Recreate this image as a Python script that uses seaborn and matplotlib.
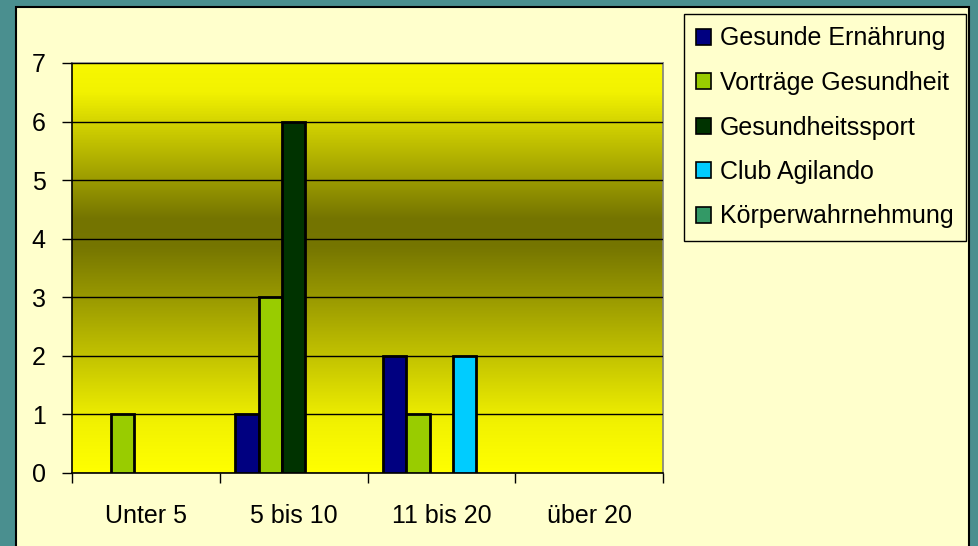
import pandas as pd
import seaborn as sns
import numpy as np
import matplotlib.pyplot as plt
from matplotlib.colors import LinearSegmentedColormap
from matplotlib.patches import Rectangle, Patch

# Data
categories = ['Unter 5', '5 bis 10', '11 bis 20', 'über 20']
series = ['Gesunde Ernährung', 'Vorträge Gesundheit', 'Gesundheitssport',
          'Club Agilando', 'Körperwahrnehmung']
gesunde_ernaehrung = [0, 1, 2, 0]
vortraege = [1, 3, 1, 0]
gesundheitssport = [0, 6, 0, 0]
club_agilando = [0, 0, 2, 0]
koerper = [0, 0, 0, 0]
colors = ['#000080', '#99CC00', '#003300', '#00CCFF', '#339966']

values = [gesunde_ernaehrung, vortraege, gesundheitssport, club_agilando, koerper]
df = pd.DataFrame({
    'Kategorie': np.tile(categories, len(series)),
    'Reihe': np.repeat(series, len(categories)),
    'Wert': np.concatenate(values),
})

plt.rcParams['font.family'] = ['Liberation Sans', 'DejaVu Sans']

W, H = 979, 546
fig = plt.figure(figsize=(W / 100, H / 100), dpi=100)
fig.patch.set_facecolor('#4A8F8F')

# cream panel
panel = Rectangle((16 / W, -0.02), (969 - 16) / W, 1 - 7 / H + 0.02,
                  transform=fig.transFigure, facecolor='#FFFFCC',
                  edgecolor='black', linewidth=1.5, zorder=-10)
fig.patches.append(panel)

ax = fig.add_axes([72 / W, (H - 473) / H, (663 - 72) / W, (473 - 63) / H])

sns.barplot(data=df, x='Kategorie', y='Wert', hue='Reihe', order=categories,
            hue_order=series, palette=colors, width=0.79, saturation=1,
            edgecolor='black', linewidth=2, legend=False, ax=ax, zorder=3)

# hide empty bars
for p in ax.patches:
    if p.get_height() == 0:
        p.set_visible(False)

# gradient background
cmap = LinearSegmentedColormap.from_list('grad', [
    (0.0, '#FFFF00'), (0.12, '#F2F200'), (0.55, '#767600'),
    (0.62, '#747400'), (0.93, '#F2F200'), (1.0, '#F8F800')])
grad = np.linspace(0, 1, 256).reshape(-1, 1)
ax.imshow(grad, aspect='auto', cmap=cmap, origin='lower',
          extent=[-0.5, 3.5, 0, 7], zorder=0)
ax.set_xlim(-0.5, 3.5)
ax.set_ylim(0, 7)

ax.set_yticks(range(0, 8))
ax.yaxis.grid(True, color='black', linewidth=1)
ax.set_axisbelow(False)
for gl in ax.get_ygridlines():
    gl.set_zorder(1)

ax.set_xticks(range(len(categories)))
ax.set_xticklabels(categories)
ax.set_xticks(np.arange(-0.5, 4, 1), minor=True)
ax.tick_params(axis='x', which='major', length=0, pad=22, labelsize=18)
ax.tick_params(axis='x', which='minor', length=7, width=1, direction='out')
ax.tick_params(axis='y', length=7, width=1, direction='out', pad=12, labelsize=18)
ax.set_xlabel('')
ax.set_ylabel('')

for side in ['left', 'bottom']:
    ax.spines[side].set_color('black')
    ax.spines[side].set_linewidth(1.2)
for side in ['top', 'right']:
    ax.spines[side].set_color('#808080')
    ax.spines[side].set_linewidth(1.2)

handles = [Patch(facecolor=c, edgecolor='black', linewidth=1.2) for c in colors]
fig.legend(handles, series, loc='upper left',
           bbox_to_anchor=(684 / W, 1 - 14 / H), fontsize=18,
           frameon=True, fancybox=False, facecolor='#FFFFCC',
           edgecolor='black', framealpha=1, handlelength=0.6,
           handleheight=0.6, handletextpad=0.35, borderpad=0.5,
           labelspacing=0.82, borderaxespad=0)

fig.savefig('out.png', dpi=100, facecolor=fig.get_facecolor())
